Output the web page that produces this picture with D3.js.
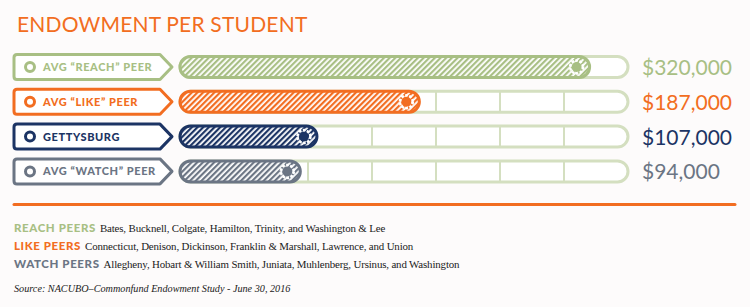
<!DOCTYPE html>
<html>
<head>
<meta charset="utf-8">
<script src="https://cdn.jsdelivr.net/npm/d3@7"></script>
<style>
  body { margin: 0; background: #fdfbfb; }
  svg { display: block; }
</style>
</head>
<body>
<script>
// dati
var labels = ["AVG \u201CREACH\u201D PEER", "AVG \u201CLIKE\u201D PEER", "GETTYSBURG", "AVG \u201CWATCH\u201D PEER"];
var values = [320000, 187000, 107000, 94000];
var valueLabels = ["$320,000", "$187,000", "$107,000", "$94,000"];
var gridTicks = [50000, 100000, 150000, 200000, 250000, 300000];
var peerGroups = ["REACH PEERS", "LIKE PEERS", "WATCH PEERS"];
var peerLists = [
  "Bates, Bucknell, Colgate, Hamilton, Trinity, and Washington & Lee",
  "Connecticut, Denison, Dickinson, Franklin & Marshall, Lawrence, and Union",
  "Allegheny, Hobart & William Smith, Juniata, Muhlenberg, Ursinus, and Washington"
];
var sourceText = "Source: NACUBO\u2013Commonfund Endowment Study - June 30, 2016";

// colori
var colors = ["#a8bf84", "#f26d21", "#1c3464", "#6b7584"];
var peerColors = ["#a8bf84", "#f26d21", "#6b7584"];
var trackColor = "#d4dfc0";
var orange = "#f26d21";

var width = 750, height = 307;

var svg = d3.select("body")
  .append("svg")
  .attr("width", width)
  .attr("height", height);

var defs = svg.append("defs");

// pattern a righe diagonali per ogni colore
colors.forEach(function (c, i) {
  var p = defs.append("pattern")
    .attr("id", "hatch" + i)
    .attr("patternUnits", "userSpaceOnUse")
    .attr("width", 4)
    .attr("height", 4)
    .attr("patternTransform", "rotate(45)");
  p.append("rect").attr("width", 4).attr("height", 4).attr("fill", "#fff");
  p.append("rect").attr("width", 2.2).attr("height", 4).attr("fill", c);
});

// titolo
svg.append("text")
  .attr("x", 17)
  .attr("y", 32)
  .attr("fill", orange)
  .style("font-family", "Lato, sans-serif")
  .style("font-size", "21px")
  .style("letter-spacing", "0.2px")
  .text("ENDOWMENT PER STUDENT");

// scale
var x = d3.scaleLinear().domain([0, 350000]).range([180, 628]);
var y = d3.scaleBand().domain(d3.range(labels.length)).range([49.6, 188.8]);
var bh = 21;

var rows = svg.selectAll("g.row")
  .data(values)
  .enter()
  .append("g")
  .attr("class", "row")
  .attr("transform", function (d, i) { return "translate(0," + (y(i) + y.bandwidth() / 2) + ")"; });

// etichetta a freccia
rows.append("path")
  .attr("d", function () {
    var l = 14, r = 160, tip = 172, h = 12.5, rr = 3;
    return "M" + (l + rr) + "," + (-h) + " L" + r + "," + (-h) + " L" + tip + ",0 L" + r + "," + h +
      " L" + (l + rr) + "," + h + " Q" + l + "," + h + " " + l + "," + (h - rr) +
      " L" + l + "," + (-h + rr) + " Q" + l + "," + (-h) + " " + (l + rr) + "," + (-h) + "Z";
  })
  .attr("fill", "#fff")
  .attr("stroke", function (d, i) { return colors[i]; })
  .attr("stroke-width", 3)
  .attr("stroke-linejoin", "round");

rows.append("circle")
  .attr("cx", 30)
  .attr("cy", 0)
  .attr("r", 4.5)
  .attr("fill", "none")
  .attr("stroke", function (d, i) { return colors[i]; })
  .attr("stroke-width", 3);

rows.append("text")
  .attr("x", 43)
  .attr("y", 4)
  .attr("fill", function (d, i) { return colors[i]; })
  .style("font-family", "Lato, sans-serif")
  .style("font-weight", "900")
  .style("font-size", "11px")
  .style("letter-spacing", "0.6px")
  .text(function (d, i) { return labels[i]; });

// binario di fondo
rows.append("rect")
  .attr("x", x(0))
  .attr("y", -bh / 2)
  .attr("width", x(350000) - x(0))
  .attr("height", bh)
  .attr("rx", bh / 2)
  .attr("fill", "#fff")
  .attr("stroke", trackColor)
  .attr("stroke-width", 3);

rows.selectAll("line.grid")
  .data(gridTicks)
  .enter()
  .append("line")
  .attr("class", "grid")
  .attr("x1", function (t) { return x(t); })
  .attr("x2", function (t) { return x(t); })
  .attr("y1", -bh / 2)
  .attr("y2", bh / 2)
  .attr("stroke", trackColor)
  .attr("stroke-width", 2);

// barre
rows.append("rect")
  .attr("x", x(0))
  .attr("y", -bh / 2)
  .attr("width", function (d) { return x(d) - x(0); })
  .attr("height", bh)
  .attr("rx", bh / 2)
  .attr("fill", function (d, i) { return "url(#hatch" + i + ")"; })
  .attr("stroke", function (d, i) { return colors[i]; })
  .attr("stroke-width", 3);

// pallino a ingranaggio
rows.append("circle")
  .attr("cx", function (d) { return x(d) - 13; })
  .attr("r", 5)
  .attr("fill", function (d, i) { return colors[i]; });

rows.append("circle")
  .attr("cx", function (d) { return x(d) - 13; })
  .attr("r", 6.5)
  .attr("fill", "none")
  .attr("stroke", "#fff")
  .attr("stroke-width", 2.5)
  .attr("stroke-dasharray", "2.6 1.5");

rows.append("circle")
  .attr("cx", function (d) { return x(d) - 13; })
  .attr("r", 3.5)
  .attr("fill", function (d, i) { return colors[i]; });

// valori
rows.append("text")
  .attr("x", 642)
  .attr("y", 8)
  .attr("fill", function (d, i) { return colors[i]; })
  .style("font-family", "Lato, sans-serif")
  .style("font-size", "21px")
  .text(function (d, i) { return valueLabels[i]; });

// linea arancione
svg.append("line")
  .attr("x1", 14).attr("x2", 735)
  .attr("y1", 204.5).attr("y2", 204.5)
  .attr("stroke", orange)
  .attr("stroke-width", 3)
  .attr("stroke-linecap", "round");

// note
var notes = svg.selectAll("text.note")
  .data(peerGroups)
  .enter()
  .append("text")
  .attr("class", "note")
  .attr("x", 14)
  .attr("y", function (d, i) { return 232 + i * 17.8; });

notes.append("tspan")
  .attr("fill", function (d, i) { return peerColors[i]; })
  .style("font-family", "Lato, sans-serif")
  .style("font-weight", "900")
  .style("font-size", "11.5px")
  .style("letter-spacing", "0.6px")
  .text(function (d) { return d; });

notes.append("tspan")
  .attr("dx", 4)
  .attr("fill", "#1a1a1a")
  .style("font-family", "'Liberation Serif', serif")
  .style("font-size", "10.9px")
  .style("letter-spacing", "-0.15px")
  .text(function (d, i) { return peerLists[i]; });

svg.append("text")
  .attr("x", 14)
  .attr("y", 292)
  .attr("fill", "#1a1a1a")
  .style("font-family", "'Liberation Serif', serif")
  .style("font-style", "italic")
  .style("font-size", "10.2px")
  .text(sourceText);
</script>
</body>
</html>
